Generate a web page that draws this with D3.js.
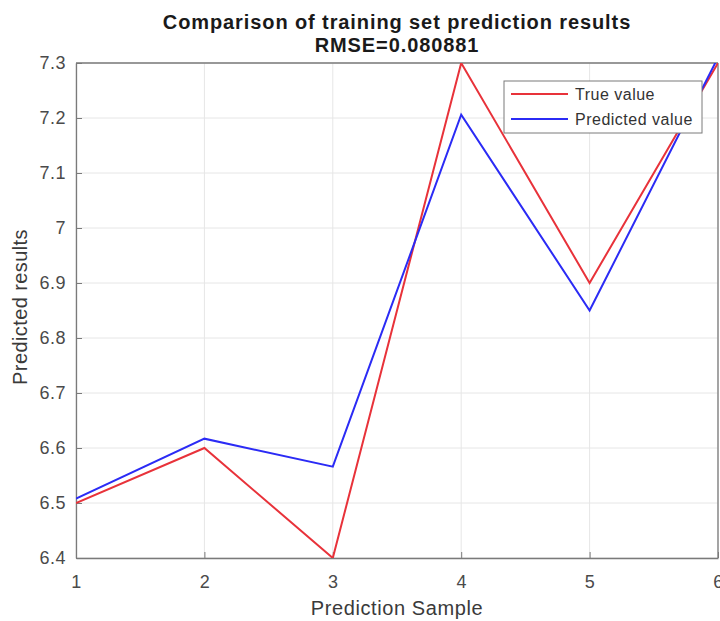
<!DOCTYPE html>
<html><head><meta charset="utf-8">
<script src="https://cdn.jsdelivr.net/npm/d3@7"></script>
<style>body{margin:0;background:#fff;}svg{display:block;font-family:"Liberation Sans",Arial,sans-serif;}</style>
</head><body><svg id="c" width="720" height="621"></svg>
<script>
const samples = [1, 2, 3, 4, 5, 6];
const trueValues = [6.5, 6.6, 6.4, 7.3, 6.9, 7.3];
const predictedValues = [6.508, 6.617, 6.566, 7.206, 6.85, 7.31];
const yTicks = [6.4, 6.5, 6.6, 6.7, 6.8, 6.9, 7, 7.1, 7.2, 7.3];
const seriesNames = ["True value", "Predicted value"];
const titleLines = ["Comparison of training set prediction results", "RMSE=0.080881"];

const svg = d3.select("#c");
const m = {l: 76, r: 718, t: 63, b: 558};
const x = d3.scaleLinear().domain([1, 6]).range([m.l, m.r]);
const y = d3.scaleLinear().domain([6.4, 7.3]).range([m.b, m.t]);

// grid
svg.append("g").selectAll("line").data(samples).join("line")
  .attr("x1", d => x(d)).attr("x2", d => x(d)).attr("y1", m.t).attr("y2", m.b)
  .attr("stroke", "#e6e6e6").attr("stroke-width", 1);
svg.append("g").selectAll("line").data(yTicks).join("line")
  .attr("x1", m.l).attr("x2", m.r).attr("y1", d => y(d)).attr("y2", d => y(d))
  .attr("stroke", "#e6e6e6").attr("stroke-width", 1);

// axes
const xAxis = svg.append("g").attr("transform", `translate(0,${m.b})`)
  .call(d3.axisBottom(x).tickValues(samples).tickFormat(d3.format("d")).tickSize(-6).tickSizeOuter(0).tickPadding(17));
const yAxis = svg.append("g").attr("transform", `translate(${m.l},0)`)
  .call(d3.axisLeft(y).tickValues(yTicks).tickFormat(d => String(+d.toFixed(1))).tickSize(-6).tickSizeOuter(0).tickPadding(10));
[xAxis, yAxis].forEach(g => {
  g.select(".domain").attr("stroke", "#7a7a7a").attr("stroke-width", 1.3);
  g.selectAll(".tick line").attr("stroke", "#7a7a7a");
  g.selectAll(".tick text").attr("fill", "#4a4a4a").attr("font-size", 18)
    .attr("letter-spacing", "0.5px").attr("font-family", "Liberation Sans, Arial, sans-serif");
});
// top and right border
svg.append("line").attr("x1", m.l).attr("x2", m.r).attr("y1", m.t).attr("y2", m.t).attr("stroke", "#7a7a7a").attr("stroke-width", 1.3);
svg.append("line").attr("x1", m.r).attr("x2", m.r).attr("y1", m.t).attr("y2", m.b).attr("stroke", "#7a7a7a").attr("stroke-width", 1.3);

// clip
svg.append("clipPath").attr("id", "clip").append("rect")
  .attr("x", m.l).attr("y", m.t).attr("width", m.r - m.l).attr("height", m.b - m.t);

const line = d3.line().x((d, i) => x(samples[i])).y(d => y(d));
const colors = ["#e8323a", "#2b2bf5"];
[trueValues, predictedValues].forEach((vals, k) => {
  svg.append("path").datum(vals).attr("d", line).attr("fill", "none")
    .attr("stroke", colors[k]).attr("stroke-width", 2).attr("clip-path", "url(#clip)");
});

// legend
const lg = svg.append("g");
lg.append("rect").attr("x", 504).attr("y", 81).attr("width", 198).attr("height", 52)
  .attr("fill", "#fff").attr("stroke", "#7a7a7a").attr("stroke-width", 1);
seriesNames.forEach((n, i) => {
  const yy = 94 + i * 25;
  lg.append("line").attr("x1", 511).attr("x2", 568).attr("y1", yy).attr("y2", yy)
    .attr("stroke", colors[i]).attr("stroke-width", 2);
  lg.append("text").attr("x", 575).attr("y", yy + 6).text(n)
    .attr("font-size", 16).attr("letter-spacing", "0.5px").attr("fill", "#333");
});

// titles
svg.append("text").attr("x", (m.l + m.r) / 2).attr("y", 29).attr("text-anchor", "middle")
  .attr("font-size", 20).attr("letter-spacing", "0.9px").attr("font-weight", "bold").attr("fill", "#1a1a1a").text(titleLines[0]);
svg.append("text").attr("x", (m.l + m.r) / 2).attr("y", 52).attr("text-anchor", "middle")
  .attr("font-size", 20).attr("letter-spacing", "0.9px").attr("font-weight", "bold").attr("fill", "#1a1a1a").text(titleLines[1]);

svg.append("text").attr("x", (m.l + m.r) / 2).attr("y", 615).attr("text-anchor", "middle")
  .attr("font-size", 20).attr("letter-spacing", "0.6px").attr("fill", "#3a3a3a").text("Prediction Sample");
svg.append("text").attr("transform", `translate(27,307) rotate(-90)`).attr("text-anchor", "middle")
  .attr("font-size", 20).attr("letter-spacing", "0.4px").attr("fill", "#3a3a3a").text("Predicted results");
</script></body></html>
